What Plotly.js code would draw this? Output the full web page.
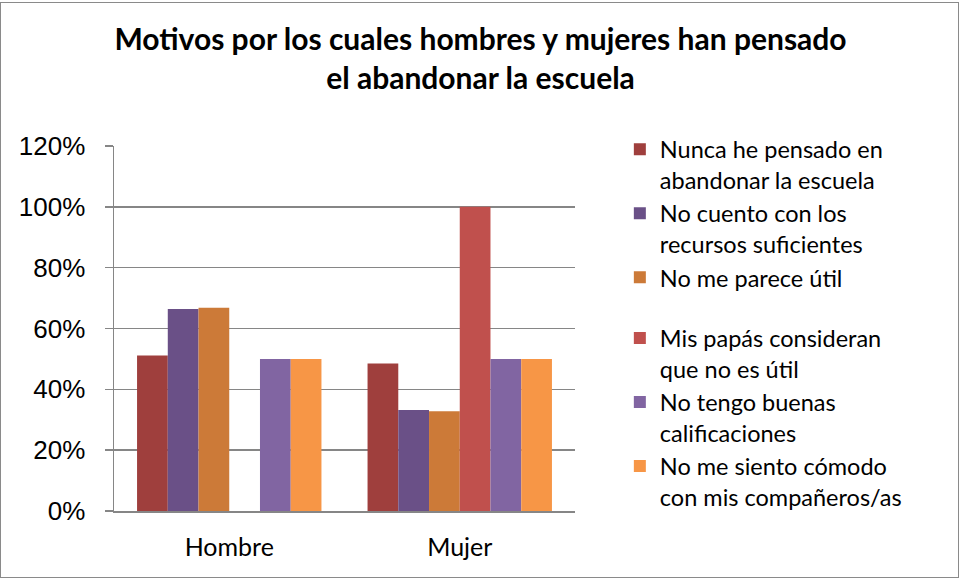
<!DOCTYPE html>
<html>
<head>
<meta charset="utf-8">
<script src="https://cdn.plot.ly/plotly-3.0.1.min.js"></script>
<style>
  body { margin: 0; background: #fff; }
  #chart { width: 961px; height: 579px; position: absolute; left: 0; top: 0; }
  #frame { position: absolute; left: 0px; top: 2px; width: 957px; height: 574px; border: 1.5px solid #8a8a8a; pointer-events: none; }
</style>
</head>
<body>
<div id="chart"></div>
<div id="frame"></div>
<script>
const categories = ["Hombre", "Mujer"];
const seriesNames = [
  "Nunca he pensado en<br>abandonar la escuela",
  "No cuento con los<br>recursos suficientes",
  "No me parece útil",
  "Mis papás consideran<br>que no es útil",
  "No tengo buenas<br>calificaciones",
  "No me siento cómodo<br>con mis compañeros/as"
];
const s1 = [0.511, 0.485];
const s2 = [0.664, 0.332];
const s3 = [0.668, 0.328];
const s4 = [null, 1.0];
const s5 = [0.50, 0.50];
const s6 = [0.50, 0.50];
const seriesValues = [s1, s2, s3, s4, s5, s6];
const colors = ["#9F3F3D", "#6A5087", "#CC7A38", "#C0504D", "#8165A2", "#F79646"];
const groups = ["a", "a", "a", "b", "b", "b"];
const yTickVals = [0, 0.2, 0.4, 0.6, 0.8, 1.0, 1.2];

const traces = seriesValues.map((vals, i) => ({
  type: "bar",
  x: categories,
  y: vals,
  name: seriesNames[i],
  legendgroup: groups[i],
  marker: { color: colors[i], line: { width: 0 } },
  hoverinfo: "x+y+name"
}));

const layout = {
  width: 961,
  height: 579,
  paper_bgcolor: "#ffffff",
  plot_bgcolor: "#ffffff",
  margin: { l: 114, r: 386, t: 146, b: 68 },
  barmode: "group",
  bargap: 0.2,
  bargroupgap: 0,
  showlegend: true,
  title: {
    text: "<b>Motivos por los cuales hombres y mujeres han pensado<br>el abandonar la escuela</b>",
    font: { family: "Lato, 'Open Sans', sans-serif", size: 30, color: "#000" },
    xref: "container", x: 0.5, xanchor: "center",
    yref: "container", y: 0.914, yanchor: "top"
  },
  xaxis: {
    type: "category",
    showline: true, linecolor: "#868686", linewidth: 1.5,
    ticks: "", showgrid: false,
    tickfont: { family: "Lato, sans-serif", size: 25, color: "#000" },
    ticklabelstandoff: 13,
    fixedrange: true
  },
  yaxis: {
    range: [0, 1.2],
    tickvals: yTickVals,
    tickformat: ".0%",
    showline: true, linecolor: "#868686", linewidth: 1.5,
    ticks: "outside", ticklen: 8, tickcolor: "#868686", tickwidth: 1.5,
    showgrid: true, gridcolor: "#868686", gridwidth: 1.5,
    zeroline: false,
    tickfont: { family: "'Liberation Sans', Arial, sans-serif", size: 26, color: "#000" },
    ticklabelstandoff: 14,
    fixedrange: true
  },
  legend: {
    xref: "container", yref: "container",
    x: 0.645, y: 0.78, xanchor: "left", yanchor: "top",
    maxheight: 560,
    traceorder: "grouped",
    tracegroupgap: 27,
    valign: "top",
    font: { family: "Lato, sans-serif", size: 23.5, color: "#000" },
    bgcolor: "rgba(0,0,0,0)"
  }
};

Plotly.newPlot("chart", traces, layout, { displayModeBar: false, staticPlot: true });
</script>
</body>
</html>
